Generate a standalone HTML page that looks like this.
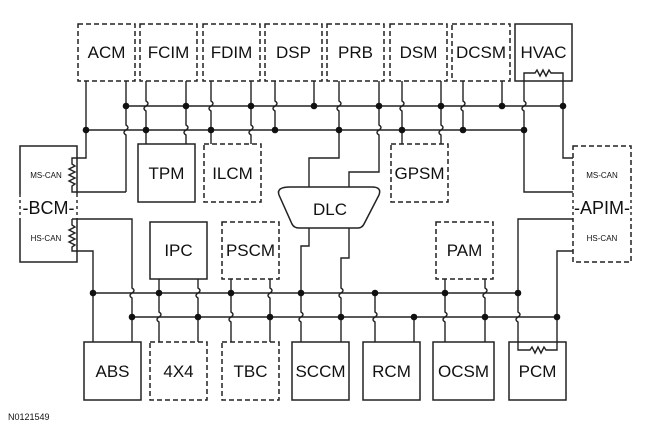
<!DOCTYPE html>
<html><head><meta charset="utf-8"><style>
html,body{margin:0;padding:0;background:#fff;}
svg{display:block;}
text{font-family:"Liberation Sans",Arial,sans-serif;fill:#111;}
</style></head><body>
<svg width="650" height="426" viewBox="0 0 650 426" xmlns="http://www.w3.org/2000/svg">
<g fill="#fff" stroke="#222" stroke-width="1.5">
<g stroke-dasharray="5,3">
<rect x="78" y="24" width="57" height="57"/>
<rect x="140" y="24" width="57" height="57"/>
<rect x="203" y="24" width="57" height="57"/>
<rect x="265" y="24" width="57" height="57"/>
<rect x="327" y="24" width="57" height="57"/>
<rect x="390" y="24" width="57" height="57"/>
<rect x="452" y="24" width="58" height="57"/>
<rect x="204" y="144" width="57" height="58"/>
<rect x="391" y="144" width="57" height="58"/>
<rect x="573" y="146" width="58" height="116"/>
<rect x="222" y="222" width="57" height="57"/>
<rect x="436" y="222" width="57" height="57"/>
<rect x="150" y="342" width="57" height="58"/>
<rect x="222" y="342" width="57" height="58"/>
</g>
<rect x="515" y="24" width="57" height="57"/>
<rect x="138" y="144" width="57" height="58"/>
<rect x="20" y="146" width="57" height="116"/>
<rect x="150" y="222" width="57" height="57"/>
<rect x="84" y="342" width="57" height="58"/>
<rect x="292" y="342" width="57" height="58"/>
<rect x="363" y="342" width="57" height="58"/>
<rect x="433" y="342" width="61" height="58"/>
<rect x="509" y="342" width="57" height="58"/>
<path d="M290 187 Q276 187 279 195 L292 224 Q294 228 299 228 H358 Q362 228 364 224 L379 195 Q382 187 372 187 Z"/>
</g>
<rect x="72" y="194" width="10" height="24" fill="#fff"/>
<rect x="15" y="194" width="10" height="24" fill="#fff"/>
<rect x="568" y="194" width="10" height="24" fill="#fff"/>
<rect x="626" y="194" width="10" height="24" fill="#fff"/>
<g fill="none" stroke="#222" stroke-width="1.4">
<path d="M77 194 V218 M20 194 V218 M573 194 V218 M631 194 V218" stroke-dasharray="3,3"/>
<path d="M126 106 H563 M86 130 H524"/>
<path d="M86 81 V158 H72 V164 l3 2 l-6 3 l6 3 l-6 3 l6 3 l-6 3 l6 3 l-3 2 V192 H126 M126 81 V125 q4 2.5 0 5 q-4 2.5 0 5 V192"/>
<path d="M146 81 V101 q4 2.5 0 5 q-4 2.5 0 5 V144 M186 81 V125 q4 2.5 0 5 q-4 2.5 0 5 V144"/>
<path d="M211 81 V101 q4 2.5 0 5 q-4 2.5 0 5 V144 M251 81 V125 q4 2.5 0 5 q-4 2.5 0 5 V144"/>
<path d="M275 81 V101 q4 2.5 0 5 q-4 2.5 0 5 V130 M314 81 V106"/>
<path d="M339 81 V101 q4 2.5 0 5 q-4 2.5 0 5 V158 H309 V187 M379 81 V125 q4 2.5 0 5 q-4 2.5 0 5 V172 H349 V187"/>
<path d="M402 81 V101 q4 2.5 0 5 q-4 2.5 0 5 V144 M441 81 V125 q4 2.5 0 5 q-4 2.5 0 5 V144"/>
<path d="M463 81 V101 q4 2.5 0 5 q-4 2.5 0 5 V130 M502 81 V106"/>
<path d="M524 81 V73 H535 l2 -3 l3 6 l3 -6 l3 6 l3 -6 l2 3 H563 V158 H573 M524 81 V101 q4 2.5 0 5 q-4 2.5 0 5 V192 H573"/>
<path d="M93 293 H518 M132 317 H557"/>
<path d="M72 219 H132 V288 q4 2.5 0 5 q-4 2.5 0 5 V342 M72 219 V225 l3 2 l-6 3 l6 3 l-6 3 l6 3 l-6 3 l6 3 l-3 2 V251 H93 V342"/>
<path d="M159 279 V312 q4 2.5 0 5 q-4 2.5 0 5 V342 M198 279 V288 q4 2.5 0 5 q-4 2.5 0 5 V342"/>
<path d="M231 279 V312 q4 2.5 0 5 q-4 2.5 0 5 V342 M270 279 V288 q4 2.5 0 5 q-4 2.5 0 5 V342"/>
<path d="M309 228 V246 H301 V312 q4 2.5 0 5 q-4 2.5 0 5 V342 M349 228 V258 H341 V288 q4 2.5 0 5 q-4 2.5 0 5 V342"/>
<path d="M375 293 V312 q4 2.5 0 5 q-4 2.5 0 5 V342 M414 317 V342"/>
<path d="M445 279 V312 q4 2.5 0 5 q-4 2.5 0 5 V342 M485 279 V288 q4 2.5 0 5 q-4 2.5 0 5 V342"/>
<path d="M573 219 H518 V312 q4 2.5 0 5 q-4 2.5 0 5 V350 H530 l2 -3 l3 6 l3 -6 l3 6 l3 -6 l2 3 H557 V251 H573"/>
</g>
<g fill="#111">
<circle cx="126" cy="106" r="3.3"/><circle cx="186" cy="106" r="3.3"/><circle cx="251" cy="106" r="3.3"/><circle cx="314" cy="106" r="3.3"/><circle cx="379" cy="106" r="3.3"/><circle cx="441" cy="106" r="3.3"/><circle cx="502" cy="106" r="3.3"/><circle cx="563" cy="106" r="3.3"/>
<circle cx="86" cy="130" r="3.3"/><circle cx="146" cy="130" r="3.3"/><circle cx="211" cy="130" r="3.3"/><circle cx="275" cy="130" r="3.3"/><circle cx="339" cy="130" r="3.3"/><circle cx="402" cy="130" r="3.3"/><circle cx="463" cy="130" r="3.3"/><circle cx="524" cy="130" r="3.3"/>
<circle cx="93" cy="293" r="3.3"/><circle cx="159" cy="293" r="3.3"/><circle cx="231" cy="293" r="3.3"/><circle cx="301" cy="293" r="3.3"/><circle cx="375" cy="293" r="3.3"/><circle cx="445" cy="293" r="3.3"/><circle cx="518" cy="293" r="3.3"/>
<circle cx="132" cy="317" r="3.3"/><circle cx="198" cy="317" r="3.3"/><circle cx="270" cy="317" r="3.3"/><circle cx="341" cy="317" r="3.3"/><circle cx="414" cy="317" r="3.3"/><circle cx="485" cy="317" r="3.3"/><circle cx="557" cy="317" r="3.3"/>
</g>
<g font-size="17" text-anchor="middle">
<text x="106.5" y="58">ACM</text>
<text x="168.5" y="58">FCIM</text>
<text x="231.5" y="58">FDIM</text>
<text x="293.5" y="58">DSP</text>
<text x="355.5" y="58">PRB</text>
<text x="418.5" y="58">DSM</text>
<text x="481" y="58">DCSM</text>
<text x="543.5" y="58">HVAC</text>
<text x="166.5" y="179">TPM</text>
<text x="232.5" y="179">ILCM</text>
<text x="419.5" y="179">GPSM</text>
<text x="330" y="215">DLC</text>
<text x="178.5" y="256">IPC</text>
<text x="250.5" y="256">PSCM</text>
<text x="464.5" y="256">PAM</text>
<text x="112.5" y="377">ABS</text>
<text x="178.5" y="377">4X4</text>
<text x="250.5" y="377">TBC</text>
<text x="320.5" y="377">SCCM</text>
<text x="391.5" y="377">RCM</text>
<text x="463.5" y="377">OCSM</text>
<text x="537.5" y="377">PCM</text>
<text x="48.5" y="214" font-size="18">-BCM-</text>
<text x="602" y="214" font-size="18">-APIM-</text>
</g>
<g font-size="8" text-anchor="middle">
<text x="46" y="178">MS-CAN</text>
<text x="46" y="241">HS-CAN</text>
<text x="602" y="178">MS-CAN</text>
<text x="602" y="241">HS-CAN</text>
</g>
<text x="8" y="420" font-size="9">N0121549</text>
</svg>
</body></html>
